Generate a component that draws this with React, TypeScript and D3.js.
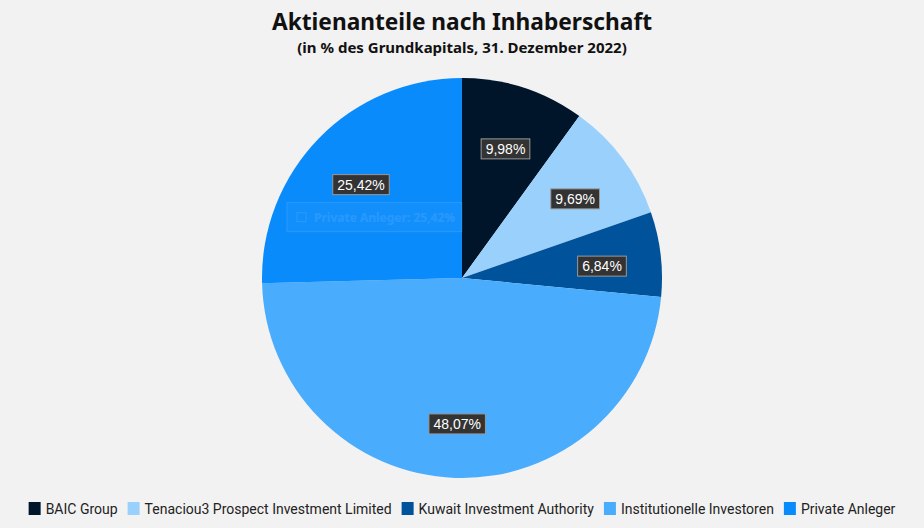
import React, { useEffect, useRef } from "react";
import * as d3 from "d3";

const categories = ["BAIC Group", "Tenaciou3 Prospect Investment Limited", "Kuwait Investment Authority", "Institutionelle Investoren", "Private Anleger"];
const values = [9.98, 9.69, 6.84, 48.07, 25.42];
const colors = ["#001529", "#99d1fc", "#00529b", "#4aacfc", "#0a8bfc"];
const title = "Aktienanteile nach Inhaberschaft";
const subtitle = "(in % des Grundkapitals, 31. Dezember 2022)";
const ghostIndex = 4;

const W = 924, H = 528;
const fmt = (v: number) => v.toFixed(2).replace(".", ",") + "%";

export default function App() {
  const ref = useRef<SVGSVGElement>(null);
  useEffect(() => {
    const svg = d3.select(ref.current);
    svg.selectAll("*").remove();
    svg.append("rect").attr("width", W).attr("height", H).attr("fill", "#f2f2f2");

    svg.append("text").attr("x", W / 2).attr("y", 30).attr("text-anchor", "middle")
      .attr("font-family", "'Noto Sans', sans-serif").attr("font-weight", 700).attr("font-size", 22.7)
      .attr("fill", "#111").text(title);
    svg.append("text").attr("x", W / 2).attr("y", 53).attr("text-anchor", "middle")
      .attr("font-family", "'Noto Sans', sans-serif").attr("font-weight", 700).attr("font-size", 15)
      .attr("fill", "#111").text(subtitle);

    const cx = 462, cy = 278, r = 200;
    const pie = d3.pie<number>().sort(null).value(d => d);
    const arcs = pie(values);
    const arc = d3.arc<d3.PieArcDatum<number>>().innerRadius(0).outerRadius(r);
    const labelArc = d3.arc<d3.PieArcDatum<number>>().innerRadius(141).outerRadius(141);
    const g = svg.append("g").attr("transform", `translate(${cx},${cy})`);
    g.selectAll("path.slice").data(arcs).join("path").attr("class", "slice")
      .attr("d", arc).attr("fill", (_, i) => colors[i]);

    const lg = g.selectAll("g.lbl").data(arcs).join("g").attr("class", "lbl")
      .attr("transform", d => { const c = labelArc.centroid(d); return `translate(${c[0]},${c[1] + 5})`; });
    lg.each(function (d) {
      const s = d3.select(this);
      const t = s.append("text").attr("text-anchor", "middle").attr("y", 5)
        .attr("font-family", "'Liberation Sans', Arial, sans-serif").attr("font-size", 14)
        .attr("fill", "#fff").text(fmt(d.data));
      const w = (t.node() as SVGTextElement).getComputedTextLength();
      s.insert("rect", "text").attr("x", -w / 2 - 4.5).attr("y", -10).attr("width", w + 9).attr("height", 20)
        .attr("fill", "#333").attr("stroke", "#999").attr("stroke-width", 1);
    });

    // ghost tooltip
    const gc = labelArc.centroid(arcs[ghostIndex]);
    const gt = svg.append("g").attr("transform", `translate(${cx + gc[0]},${cy + gc[1] + 5})`).attr("opacity", 0.12);
    gt.append("rect").attr("x", -74).attr("y", 18).attr("width", 175).attr("height", 29)
      .attr("fill", "#fff").attr("fill-opacity", 0.3).attr("stroke", "#fff").attr("stroke-width", 1);
    gt.append("rect").attr("x", -64).attr("y", 28).attr("width", 9).attr("height", 9)
      .attr("fill", "none").attr("stroke", "#fff");
    gt.append("text").attr("x", -47).attr("y", 37)
      .attr("font-family", "'Noto Sans', sans-serif").attr("font-weight", 700).attr("font-size", 12)
      .attr("fill", "#fff").text(`${categories[ghostIndex]}: ${fmt(values[ghostIndex])}`);

    // legend
    const leg = svg.append("g");
    const items: { g: any; w: number }[] = [];
    categories.forEach((c, i) => {
      const it = leg.append("g");
      it.append("rect").attr("x", 0).attr("y", -7).attr("width", 12).attr("height", 13).attr("fill", colors[i]);
      const t = it.append("text").attr("x", 17).attr("y", 5)
        .attr("font-family", "'Liberation Sans Narrow', 'Roboto', sans-serif").attr("font-size", 14)
        .attr("fill", "#222").text(c);
      const w = 17 + (t.node() as SVGTextElement).getComputedTextLength();
      items.push({ g: it, w });
    });
    const gap = 10;
    const total = d3.sum(items, d => d.w) + gap * (items.length - 1);
    let x = (W - total) / 2;
    items.forEach(it => { it.g.attr("transform", `translate(${x},509)`); x += it.w + gap; });
  }, []);
  return <svg ref={ref} width={W} height={H} style={{ display: "block", position: "absolute", left: 0, top: 0 }} />;
}
